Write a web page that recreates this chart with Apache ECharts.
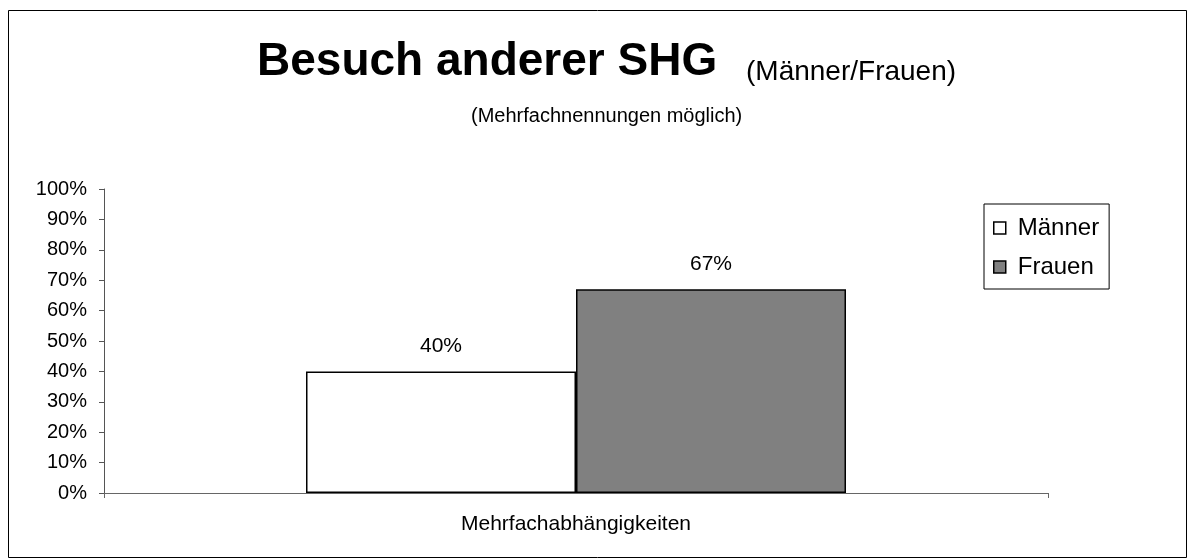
<!DOCTYPE html>
<html>
<head>
<meta charset="utf-8">
<script src="https://cdn.jsdelivr.net/npm/echarts@6/dist/echarts.min.js"></script>
<style>
  html, body { margin: 0; padding: 0; background: #fff; }
  #chart { width: 1188px; height: 559px; }
</style>
</head>
<body>
<div id="chart"></div>
<script>
// Daten
const categories = ['Mehrfachabhängigkeiten']
const seriesNames = ['Männer', 'Frauen']
const maennerValues = [40]
const frauenValues = [67]

const font = "'Liberation Sans', Arial, sans-serif"

let myChart = echarts.init(document.getElementById('chart'))

let option = {
  animation: false,
  title: [
    {
      text: 'Besuch anderer SHG',
      left: 257,
      top: 39,
      padding: 0,
      textStyle: { fontFamily: font, fontSize: 46, fontWeight: 'bold', color: '#000' }
    },
    {
      text: '(Männer/Frauen)',
      left: 746,
      top: 58,
      padding: 0,
      textStyle: { fontFamily: font, fontSize: 28, fontWeight: 'normal', color: '#000' }
    },
    {
      text: '(Mehrfachnennungen möglich)',
      left: 471,
      top: 106,
      padding: 0,
      textStyle: { fontFamily: font, fontSize: 20, fontWeight: 'normal', color: '#000' }
    }
  ],
  legend: {
    orient: 'vertical',
    left: 984,
    top: 204,
    padding: [12, 10, 10, 9],
    itemGap: 15,
    itemWidth: 12,
    itemHeight: 12,
    icon: 'rect',
    borderColor: '#000',
    borderWidth: 1,
    itemStyle: { borderColor: '#000', borderWidth: 1.5 },
    textStyle: { fontFamily: font, fontSize: 24, color: '#000', padding: [0, 0, 0, 7] },
    data: seriesNames
  },
  grid: {
    left: 104,
    right: 140,
    top: 189,
    bottom: 66,
    containLabel: false
  },
  xAxis: {
    type: 'category',
    data: categories,
    axisLine: { lineStyle: { color: '#666', width: 1 } },
    axisTick: { show: true, length: 5, lineStyle: { color: '#666' } },
    axisLabel: { fontFamily: font, fontSize: 21, color: '#000', margin: 21 }
  },
  yAxis: {
    type: 'value',
    min: 0,
    max: 100,
    interval: 10,
    axisLine: { show: true, lineStyle: { color: '#555', width: 1 } },
    axisTick: { show: true, length: 5, lineStyle: { color: '#555' } },
    splitLine: { show: false },
    axisLabel: { fontFamily: font, fontSize: 20, color: '#000', margin: 17, formatter: '{value}%' }
  },
  series: [
    {
      name: seriesNames[0],
      type: 'bar',
      data: maennerValues,
      barWidth: 270,
      barGap: '0%',
      itemStyle: { color: '#ffffff', borderColor: '#000', borderWidth: 1.5 },
      label: { show: true, position: 'top', distance: 15, formatter: '{c}%', fontFamily: font, fontSize: 21, color: '#000' }
    },
    {
      name: seriesNames[1],
      type: 'bar',
      data: frauenValues,
      barWidth: 270,
      barGap: '0%',
      itemStyle: { color: '#808080', borderColor: '#000', borderWidth: 1.5 },
      label: { show: true, position: 'top', distance: 15, formatter: '{c}%', fontFamily: font, fontSize: 21, color: '#000' }
    }
  ],
  graphic: [
    {
      type: 'rect',
      shape: { x: 8.5, y: 10.5, width: 1178, height: 547 },
      style: { fill: 'none', stroke: '#000', lineWidth: 1 },
      silent: true
    }
  ]
}

myChart.setOption(option)
</script>
</body>
</html>
